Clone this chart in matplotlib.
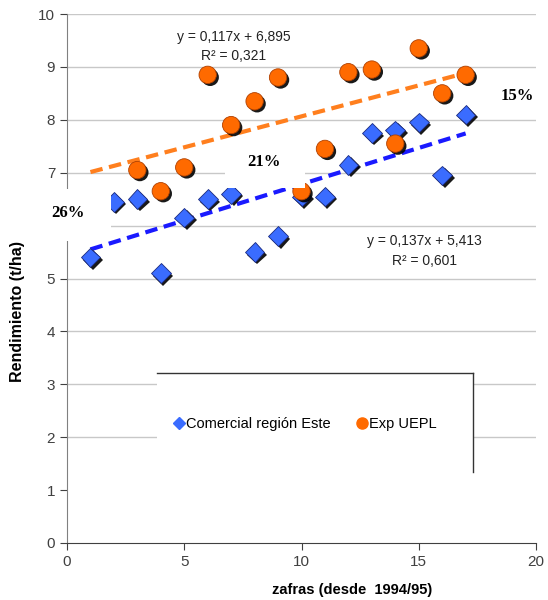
import numpy as np
import matplotlib.pyplot as plt
import matplotlib.patheffects as pe
from matplotlib.patches import Rectangle

plt.rcParams['font.family'] = ['Liberation Sans', 'DejaVu Sans']

# datos
zafras = np.arange(1, 18)
comercial = [5.4, 6.45, 6.5, 5.1, 6.15, 6.5, 6.6, 5.5, 5.8, 6.55, 6.55, 7.15, 7.75, 7.8, 7.95, 6.95, 8.1]
zafras_exp = np.arange(3, 18)
exp_uepl = [7.05, 6.65, 7.1, 8.85, 7.9, 8.35, 8.8, 6.65, 7.45, 8.9, 8.95, 7.55, 9.35, 8.5, 8.85]

# coeficientes de las tendencias (según las ecuaciones del gráfico)
coef_com = (0.137, 5.413)
coef_exp = (0.117, 6.895)

fig = plt.figure(figsize=(5.48, 6), dpi=100)
ax = fig.add_axes([67 / 548, 57 / 600, 469 / 548, 529 / 600])
ax.set_xlim(0, 20)
ax.set_ylim(0, 10)

for yv in range(2, 11):
    ax.axhline(yv, color='#c8c8c8', lw=1, zorder=0)

sombra = [pe.SimplePatchShadow(offset=(1.8, -1.8), shadow_rgbFace='black', alpha=0.9), pe.Normal()]

xt = np.array([1, 17])
ax.plot(xt, np.polyval(coef_exp, xt), '--', color='#ff7f1e', lw=3, dashes=(3, 1.6), zorder=2)
ax.plot(xt, np.polyval(coef_com, xt), '--', color='#1a1aff', lw=3, dashes=(3, 1.6), zorder=2)

ax.plot(zafras, comercial, 'D', ms=10, color='#3a6cff', mec='#1a2a80', mew=0.6,
        ls='none', zorder=3, path_effects=sombra)
ax.plot(zafras_exp, exp_uepl, 'o', ms=12.5, color='#ff6a00', mec='#b04000', mew=0.6,
        ls='none', zorder=3, path_effects=sombra)

ax.spines['top'].set_visible(False)
ax.spines['right'].set_visible(False)
ax.spines['left'].set_color('#808080')
ax.spines['bottom'].set_color('#404040')
ax.set_xticks([0, 5, 10, 15, 20])
ax.set_yticks(range(0, 11))
ax.tick_params(direction='out', length=5, colors='#404040', labelsize=11, labelcolor='#404040')

# cajas blancas sobre el gráfico
def px_box(x0, y0, x1, y1):
    r = Rectangle((x0 / 548, 1 - y1 / 600), (x1 - x0) / 548, (y1 - y0) / 600,
                  transform=fig.transFigure, facecolor='white', edgecolor='none', zorder=5)
    fig.add_artist(r)

px_box(0, 189, 111, 241)
px_box(225, 150, 305, 188)
px_box(157, 373, 473, 472)
fig.add_artist(plt.Line2D([157 / 548, 473 / 548], [1 - 373 / 600, 1 - 373 / 600],
                          transform=fig.transFigure, color='#333333', lw=1, zorder=6))
fig.add_artist(plt.Line2D([473 / 548, 473 / 548], [1 - 373 / 600, 1 - 472 / 600],
                          transform=fig.transFigure, color='#333333', lw=1, zorder=6))

fig.text(68 / 548, 1 - 213 / 600, '26%', family='Liberation Serif', weight='bold',
         fontsize=12, ha='center', va='center', zorder=7)
fig.text(264 / 548, 1 - 162 / 600, '21%', family='Liberation Serif', weight='bold',
         fontsize=12, ha='center', va='center', zorder=7)
fig.text(517 / 548, 1 - 96 / 600, '15%', family='Liberation Serif', weight='bold',
         fontsize=12, ha='center', va='center', zorder=7)

fig.text(234 / 548, 1 - 37 / 600, 'y = 0,117x + 6,895', fontsize=10, ha='center', va='center', color='#222222')
fig.text(234 / 548, 1 - 56 / 600, 'R² = 0,321', fontsize=10, ha='center', va='center', color='#222222')
fig.text(424 / 548, 1 - 241 / 600, 'y = 0,137x + 5,413', fontsize=10, ha='center', va='center', color='#222222')
fig.text(424 / 548, 1 - 261 / 600, 'R² = 0,601', fontsize=10, ha='center', va='center', color='#222222')

fig.text(18 / 548, 1 - 312 / 600, 'Rendimiento (t/ha)', rotation=90, weight='bold',
         fontsize=11.5, ha='center', va='center')
fig.text(352 / 548, 1 - 590 / 600, 'zafras (desde  1994/95)', weight='bold',
         fontsize=10.5, ha='center', va='center')

h1 = plt.Line2D([], [], marker='D', ls='none', color='#3a6cff', ms=6)
h2 = plt.Line2D([], [], marker='o', ls='none', color='#ff6a00', ms=8)
leg = fig.legend([h1, h2], ['Comercial región Este', 'Exp UEPL'], ncol=2, frameon=False,
                 loc='center', bbox_to_anchor=(305 / 548, 1 - 424 / 600), fontsize=10.5,
                 handletextpad=0.05, columnspacing=1.8, handlelength=0.8)
leg.set_zorder(8)

fig.savefig('out.png', dpi=100)
